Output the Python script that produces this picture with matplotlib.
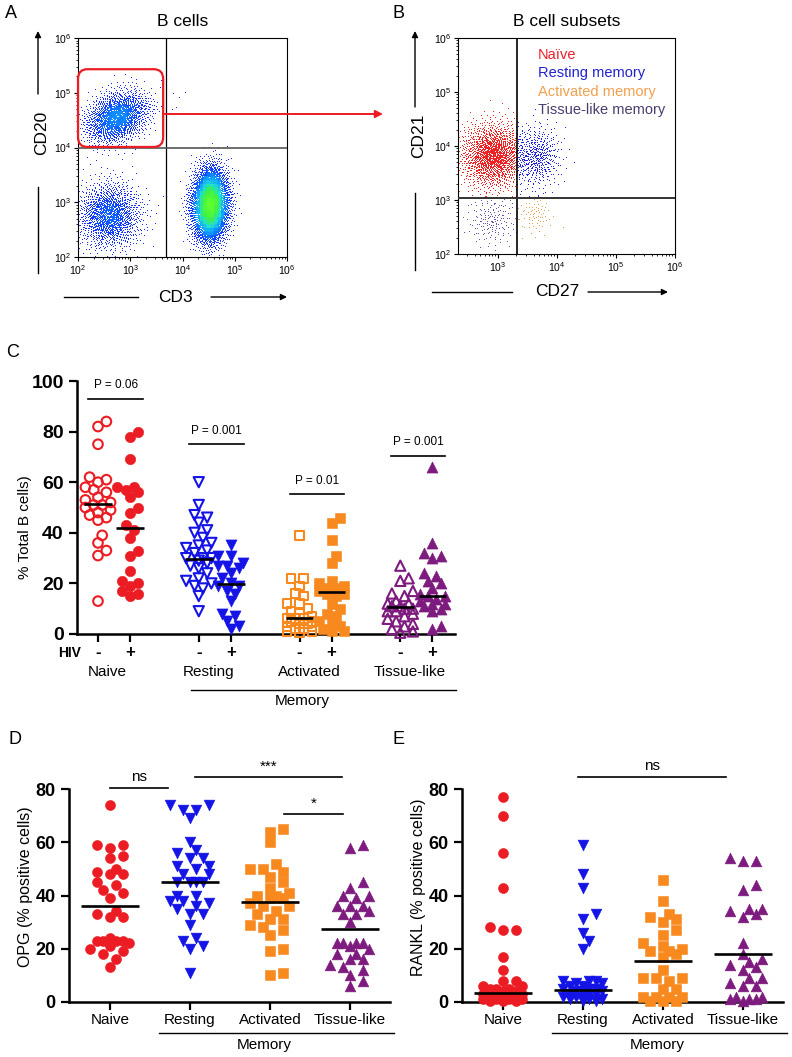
import numpy as np
import matplotlib
matplotlib.use("Agg")
import matplotlib.pyplot as plt
from matplotlib.patches import FancyBboxPatch, FancyArrowPatch
from matplotlib.lines import Line2D
from matplotlib.colors import LinearSegmentedColormap
from matplotlib.ticker import LogLocator, NullFormatter

plt.rcParams["font.family"] = ["Liberation Sans", "DejaVu Sans"]
plt.rcParams["mathtext.default"] = "regular"

W, H = 792, 1057
RED, BLUE, ORANGE, PURPLE = "#ec1c24", "#1414e6", "#f7891f", "#7d1b7e"

# ---------------- flow panels (log10 units) ----------------
# A: B cells / double-negative / T cells  (centre, spread, tilt, events)
a_cx = [2.75, 2.60, 4.53]
a_cy = [4.55, 2.75, 2.95]
a_sx = [0.30, 0.30, 0.17]
a_sy = [0.24, 0.30, 0.32]
a_rho = [0.30, 0.0, 0.05]
a_n = [2200, 1900, 6500]
a_gate_x = 3.68          # CD3 quadrant line
a_gate_y = 4.0           # CD20 quadrant line
a_bgate = [2.0, 3.63, 4.01, 5.43]   # x0, x1, y0, y1 of the B-cell gate
a_stray_x = [3.82, 4.05, 3.95, 3.70, 3.88, 3.80, 3.45, 3.86]
a_stray_y = [4.98, 5.00, 4.92, 4.70, 4.73, 4.70, 4.69, 4.60]

# B: naive / tissue-like / resting / activated
b_cx = [2.92, 2.90, 3.68, 3.65]
b_cy = [3.82, 2.62, 3.80, 2.75]
b_sx = [0.28, 0.22, 0.19, 0.15]
b_sy = [0.30, 0.24, 0.28, 0.20]
b_n = [1800, 180, 450, 80]
b_gate_x = 3.32
b_gate_y = 3.04
b_xmin = 2.32
b_legend = ["Naïve", "Resting memory", "Activated memory", "Tissue-like memory"]
b_legend_col = ["#e8202a", "#2020d0", "#f0a050", "#4b3d6e"]

# ---------------- panel C: % of total B cells ----------------
c_groups = ["Naive", "Resting", "Activated", "Tissue-like"]
c_signs = ["-", "+"]
c_naive_neg = [84, 82, 75, 62, 61, 60, 58, 57, 56, 54, 53, 52, 51, 51, 50, 49, 48, 47, 46, 45, 39, 36, 33, 31, 13]
c_naive_pos = [80, 78, 69, 58, 58, 57, 56, 54, 50, 48, 43, 41, 38, 33, 31, 25, 21, 20, 19, 17, 16, 15]
c_rest_neg = [60, 51, 47, 46, 44, 41, 40, 38, 36, 35, 34, 33, 32, 30, 30, 30, 29, 28, 27, 26, 24, 22, 21, 20, 19, 18, 15, 9]
c_rest_pos = [35, 31, 31, 28, 27, 27, 26, 24, 22, 20, 19, 19, 17, 16, 13, 8, 7, 5, 3, 2]
c_act_neg = [39, 22, 22, 19, 16, 15, 12, 12, 10, 9, 8, 7, 6, 6, 6, 5, 5, 4, 4, 3, 3, 2, 2, 1, 1, 0.5]
c_act_pos = [46, 44, 37, 31, 28, 21, 20, 19, 18, 18, 17, 16, 16, 15, 12, 10, 8, 7, 5, 4, 3, 2, 1, 1]
c_tis_neg = [27, 22, 21, 17, 16, 15, 13, 12, 12, 11, 11, 10, 10, 9, 9, 8, 7, 6, 5, 4, 3, 2, 1, 0.5]
c_tis_pos = [66, 36, 32, 31, 30, 24, 23, 21, 20, 18, 16, 15, 15, 14, 13, 12, 12, 11, 10, 9, 3, 2]
c_center = [51.2, 41.9, 29.8, 19.6, 6.2, 16.5, 10.5, 15.1]
c_pval = ["P = 0.06", "P = 0.001", "P = 0.01", "P = 0.001"]
c_pval_y = [92.9, 75.0, 55.3, 70.4]

# ---------------- panels D / E ----------------
cats = ["Naive", "Resting", "Activated", "Tissue-like"]
d_naive = [74, 59, 59, 58, 55, 54, 50, 49, 48, 48, 45, 44, 42, 41, 39, 34, 33, 32, 32,
           24, 23, 23, 23, 23, 22, 21, 20, 19, 18, 16, 13]
d_rest = [74, 74, 72, 72, 69, 60, 57, 56, 54, 54, 51, 51, 50, 48, 48, 45, 45, 45, 45, 40,
          40, 38, 38, 37, 36, 35, 33, 33, 29, 24, 23, 21, 20, 11]
d_act = [65, 64, 60, 52, 50, 50, 49, 47, 45, 43, 41, 40, 40, 39, 39, 37, 36, 36, 34, 33,
         31, 31, 29, 28, 27, 25, 20, 19, 11, 10]
d_tis = [59, 58, 45, 43, 40, 40, 39, 36, 36, 36, 34, 33, 33, 30, 22, 22, 22, 22, 21, 20,
         18, 18, 16, 16, 14, 13, 12, 10, 8, 6]
d_center = [36.2, 45.0, 37.6, 27.4]
d_sig_x0 = [1.0, 2.06, 3.18]
d_sig_x1 = [1.73, 3.90, 3.91]
d_sig_y = [80.3, 84.4, 70.5]
d_sig_txt = ["ns", "***", "*"]

e_naive = [77, 70, 56, 43, 28, 27, 27, 17, 12, 8, 8, 6, 6, 5, 5, 5, 4, 4, 3, 3, 3, 3,
           2, 2, 2, 1, 1, 1, 1, 0.5, 0.5, 0.5]
e_rest = [59, 48, 43, 33, 31, 26, 23, 20, 8, 8, 8, 7, 7, 6, 6, 5, 5, 5, 4, 4, 4, 3, 3, 3,
          2, 2, 2, 1, 1, 1, 0.5, 0.5]
e_act = [46, 38, 33, 32, 31, 30, 27, 25, 22, 21, 20, 19, 19, 18, 17, 12, 9, 9, 9, 8, 5,
         5, 2, 2, 2, 2, 0.5, 0.5, 0.5]
e_tis = [54, 53, 53, 44, 42, 35, 35, 34, 33, 32, 22, 18, 16, 15, 14, 13, 12, 9, 9, 7, 6,
         6, 2, 2, 1, 1, 1, 0.5]
e_center = [3.3, 4.5, 15.4, 17.9]
e_sig_x0 = [1.94]
e_sig_x1 = [3.79]
e_sig_y = [84.4]
e_sig_txt = ["ns"]


fig = plt.figure(figsize=(W / 100, H / 100), dpi=100)


def px_axes(left, top, right, bottom):
    return fig.add_axes([left / W, 1 - bottom / H, (right - left) / W, (bottom - top) / H])


def fxy(x, y):
    return (x / W, 1 - y / H)


def fig_line(x0, y0, x1, y1, arrow=False, color="black", lw=1.0):
    if arrow:
        fig.add_artist(FancyArrowPatch(fxy(x0, y0), fxy(x1, y1), transform=fig.transFigure,
                                       arrowstyle="-|>", mutation_scale=9, lw=lw,
                                       color=color, shrinkA=0, shrinkB=0))
    else:
        fig.add_artist(Line2D([x0 / W, x1 / W], [1 - y0 / H, 1 - y1 / H],
                              transform=fig.transFigure, lw=lw, color=color))


def qnormal(n, start):
    # deterministic low-discrepancy (R2) sample pushed through Box-Muller
    g = 1.32471795724474602596
    k = np.arange(start, start + n)
    u1 = (0.5 + k / g) % 1.0
    u2 = (0.5 + k / g ** 2) % 1.0
    r = np.sqrt(-2.0 * np.log(1.0 - 0.9995 * u1))
    return r * np.cos(2 * np.pi * u2), r * np.sin(2 * np.pi * u2)


def log_axes(ax, xlo, xticks):
    ax.set_xscale("log"); ax.set_yscale("log")
    ax.set_xlim(10 ** xlo, 1e6); ax.set_ylim(1e2, 1e6)
    ax.set_xticks([10.0 ** k for k in xticks], [f"$10^{k}$" for k in xticks])
    ax.set_yticks([10.0 ** k for k in range(2, 7)], [f"$10^{k}$" for k in range(2, 7)])
    for a in (ax.xaxis, ax.yaxis):
        a.set_minor_locator(LogLocator(base=10, subs=np.arange(2, 10)))
        a.set_minor_formatter(NullFormatter())
    ax.tick_params(which="major", direction="out", length=3, width=0.8, labelsize=7.5, pad=1.5)
    ax.tick_params(which="minor", direction="out", length=1.6, width=0.6)
    for s in ax.spines.values():
        s.set_linewidth(0.8)


# ---------------- A ----------------
axA = px_axes(78, 38, 287, 257)
dens_cmap = LinearSegmentedColormap.from_list(
    "flow", ["#2020e8", "#1040ff", "#10a0ff", "#20e0d0", "#40f040", "#60ff30"])
xs, ys = [], []
start = 7
for cx, cy, sx, sy, rho, n in zip(a_cx, a_cy, a_sx, a_sy, a_rho, a_n):
    z1, z2 = qnormal(n, start)
    start += n + 1013
    xs.append(cx + sx * z1)
    ys.append(cy + sy * (rho * z1 + np.sqrt(1 - rho ** 2) * z2))
xa = np.clip(np.concatenate(xs + [np.array(a_stray_x)]), 2.0, 6.0)
ya = np.clip(np.concatenate(ys + [np.array(a_stray_y)]), 2.0, 6.0)
hist, xe, ye = np.histogram2d(xa, ya, bins=[60, 60], range=[[2, 6], [2, 6]])
ix = np.clip(np.digitize(xa, xe) - 1, 0, 59)
iy = np.clip(np.digitize(ya, ye) - 1, 0, 59)
dens = hist[ix, iy] / hist.max()
order = np.argsort(dens)
axA.scatter(10 ** xa[order], 10 ** ya[order], s=0.45, marker="s", linewidths=0,
            c=dens_cmap(np.clip(dens[order], 0, 1) ** 0.75), zorder=2)
log_axes(axA, 2, range(2, 7))
axA.axvline(10 ** a_gate_x, color="black", lw=0.9, zorder=3)
axA.axhline(10 ** a_gate_y, color="#555555", lw=1.2, zorder=3)
gx0, gx1, gy0, gy1 = [(v - 2) / 4 for v in a_bgate]
axA.add_patch(FancyBboxPatch((gx0, gy0), gx1 - gx0, gy1 - gy0,
                             boxstyle="round,pad=0,rounding_size=0.045",
                             transform=axA.transAxes, fill=False, ec=RED, lw=1.6,
                             clip_on=False, zorder=4))
axA.set_title("B cells", fontsize=12.5, pad=9)
fig.add_artist(FancyArrowPatch(fxy(163, 114), fxy(383, 114), transform=fig.transFigure,
                               arrowstyle="-|>", mutation_scale=11, lw=1.4,
                               color=RED, shrinkA=0, shrinkB=0))

# ---------------- B ----------------
axB = px_axes(458, 38, 675, 254)
xs, ys = [], []
start = 3
for cx, cy, sx, sy, n in zip(b_cx, b_cy, b_sx, b_sy, b_n):
    z1, z2 = qnormal(n, start)
    start += n + 2711
    xs.append(cx + sx * z1)
    ys.append(cy + sy * z2)
xb = np.clip(np.concatenate(xs), b_xmin, 6.0)
yb = np.clip(np.concatenate(ys), 2.0, 6.0)
quad_col = np.where(xb < b_gate_x,
                    np.where(yb >= b_gate_y, "#ee2222", "#6a4fa8"),
                    np.where(yb >= b_gate_y, "#2424e0", "#e8a050"))
axB.scatter(10 ** xb, 10 ** yb, s=0.5, marker="s", linewidths=0, c=quad_col, zorder=2)
log_axes(axB, b_xmin, range(3, 7))
axB.axvline(10 ** b_gate_x, color="black", lw=1.2, zorder=3)
axB.axhline(10 ** b_gate_y, color="#333333", lw=1.4, zorder=3)
for i, (lab, col) in enumerate(zip(b_legend, b_legend_col)):
    axB.text(0.369, 0.921 - 0.085 * i, lab, color=col, fontsize=10.5,
             transform=axB.transAxes, va="center", ha="left")
axB.set_title("B cell subsets", fontsize=12.5, pad=9)

# flow axis labels with arrows
for (xl, t0, t1, tx, ty, b0, b1, lab) in [(38, 273, 187, 42, 133, 94, 31, "CD20"),
                                         (415, 270, 193, 419, 136, 107, 31, "CD21")]:
    fig_line(xl, t0, xl, t1)
    fig_line(xl, b0, xl, b1, arrow=True)
    fig.text(tx / W, 1 - ty / H, lab, rotation=90, fontsize=12.5, ha="center", va="center")
for (yl, l0, l1, tx, a0, a1, lab) in [(297, 64, 138, 175, 211, 287, "CD3"),
                                     (292, 432, 512, 557, 588, 668, "CD27")]:
    fig_line(l0, yl, l1, yl)
    fig_line(a0, yl, a1, yl, arrow=True)
    fig.text(tx / W, 1 - yl / H, lab, fontsize=12.5, ha="center", va="center")


# ---------------- scatter helpers ----------------
def swarm(ypx, diam, step, maxw):
    order = np.argsort(ypx)
    cands = [0.0]
    k = 1
    while k * step <= maxw:
        cands += [k * step, -k * step]
        k += 1
    placed = []
    offs = np.zeros(len(ypx))
    for i in order:
        best, bestd = 0.0, -1.0
        for c in cands:
            dmin = min((np.hypot(c - px, ypx[i] - py) for px, py in placed), default=1e9)
            if dmin >= diam:
                best = c
                break
            if dmin > bestd:
                bestd, best = dmin, c
        offs[i] = best
        placed.append((best, ypx[i]))
    return offs


def column(ax, x, vals, marker, color, filled, xppu, yppu, diam, step, maxw, s):
    v = np.asarray(vals, float)
    off = swarm(v * yppu, diam, step, maxw) / xppu
    if filled:
        ax.scatter(x + off, v, marker=marker, s=s, color=color, linewidths=0.4,
                   edgecolors=color, clip_on=False, zorder=3)
    else:
        ax.scatter(x + off, v, marker=marker, s=s * 0.85, facecolors="none",
                   edgecolors=color, linewidths=1.5, clip_on=False, zorder=3)


def centre_line(ax, x, m, hw):
    ax.plot([x - hw, x + hw], [m, m], color="black", lw=1.9, zorder=4,
            solid_capstyle="butt", clip_on=False)


def bold_axes(ax):
    for s in ("top", "right"):
        ax.spines[s].set_visible(False)
    for s in ("left", "bottom"):
        ax.spines[s].set_linewidth(1.8)
    ax.tick_params(direction="out", length=6, width=1.6)


# ---------------- C ----------------
axC = px_axes(77, 381, 455, 634)
bold_axes(axC)
axC.set_xlim(0.344, 12.16); axC.set_ylim(0, 100)
c_series = [c_naive_neg, c_naive_pos, c_rest_neg, c_rest_pos,
            c_act_neg, c_act_pos, c_tis_neg, c_tis_pos]
c_markers = ["o", "v", "s", "^"]
c_cols = [RED, BLUE, ORANGE, PURPLE]
c_pos = []
for g in range(4):
    base = 1 + 3.15 * g
    c_pos += [base, base + 1]
for i, (x, vals) in enumerate(zip(c_pos, c_series)):
    g = i // 2
    column(axC, x, vals, c_markers[g], c_cols[g], i % 2 == 1, 32, 2.53, 8.5, 4.2, 13,
           56 if c_markers[g] == "o" else (46 if c_markers[g] == "s" else 64))
    centre_line(axC, x, c_center[i], 0.43)
axC.set_yticks(range(0, 101, 20))
axC.set_yticklabels([str(v) for v in range(0, 101, 20)], fontsize=14, fontweight="bold")
axC.set_xticks(c_pos, c_signs * 4, fontsize=12, fontweight="bold")
axC.tick_params(axis="x", pad=2)
axC.text(-0.02, -0.075, "HIV", transform=axC.transAxes, fontsize=10, fontweight="bold",
         ha="center", va="center")
xt = axC.get_xaxis_transform()
for g, lab in enumerate(c_groups):
    axC.text(c_pos[2 * g] + 0.5 - 0.2, -0.15, lab, transform=xt, fontsize=11,
             ha="center", va="center")
    lo, hi = c_pos[2 * g] - 0.3, c_pos[2 * g] + 1.4
    axC.plot([lo, hi], [c_pval_y[g]] * 2, color="black", lw=1.2, clip_on=False)
    axC.text((lo + hi) / 2, c_pval_y[g] + 3.0, c_pval[g], fontsize=8.5,
             ha="center", va="bottom")
axC.plot([3.9, 12.2], [-0.221, -0.221], transform=xt, color="black", lw=1.0, clip_on=False)
axC.text(7.4, -0.265, "Memory", transform=xt, fontsize=11, ha="center", va="center")
axC.text(-0.138, 0.423, "% Total B cells)", transform=axC.transAxes, rotation=90,
         fontsize=11, ha="center", va="center")


# ---------------- D / E ----------------
def cat_panel(ax, series, centers, sig_x0, sig_x1, sig_y, sig_txt, ylabel):
    bold_axes(ax)
    ax.set_xlim(0.49, 4.5); ax.set_ylim(0, 80)
    for j, vals in enumerate(series):
        mk = c_markers[j]
        column(ax, j + 1, vals, mk, c_cols[j], True, 80, 2.665, 9, 6.5, 24,
               52 if mk == "o" else (46 if mk == "s" else 60))
        centre_line(ax, j + 1, centers[j], 0.36)
    ax.set_yticks(range(0, 81, 20))
    ax.set_yticklabels([str(v) for v in range(0, 81, 20)], fontsize=13, fontweight="bold")
    ax.set_xticks(range(1, 5), cats, fontsize=11)
    ax.tick_params(axis="x", pad=2)
    for x0, x1, y, t in zip(sig_x0, sig_x1, sig_y, sig_txt):
        ax.plot([x0, x1], [y, y], color="black", lw=1.2, clip_on=False)
        ax.text((x0 + x1) / 2, y + 1.5, t, fontsize=11, ha="center", va="bottom")
    tr = ax.get_xaxis_transform()
    ax.plot([1.62, 4.55], [-0.146, -0.146], transform=tr, color="black", lw=1.0, clip_on=False)
    ax.text(2.93, -0.2, "Memory", transform=tr, fontsize=11, ha="center", va="center")
    ax.text(-0.135, 0.54, ylabel, transform=ax.transAxes, rotation=90, fontsize=11.5,
            ha="center", va="center")


axD = px_axes(69, 789, 390, 1002)
cat_panel(axD, [d_naive, d_rest, d_act, d_tis], d_center,
          d_sig_x0, d_sig_x1, d_sig_y, d_sig_txt, "OPG (% positive cells)")
axE = px_axes(462, 789, 783, 1002)
cat_panel(axE, [e_naive, e_rest, e_act, e_tis], e_center,
          e_sig_x0, e_sig_x1, e_sig_y, e_sig_txt, "RANKL (% positive cells)")

# panel letters
for lab, x, y in [("A", 11, 13), ("B", 399, 13), ("C", 13, 352), ("D", 15, 740), ("E", 399, 740)]:
    fig.text(x / W, 1 - y / H, lab, fontsize=13, ha="center", va="center")

fig.savefig("out.png", dpi=100, facecolor="white")
